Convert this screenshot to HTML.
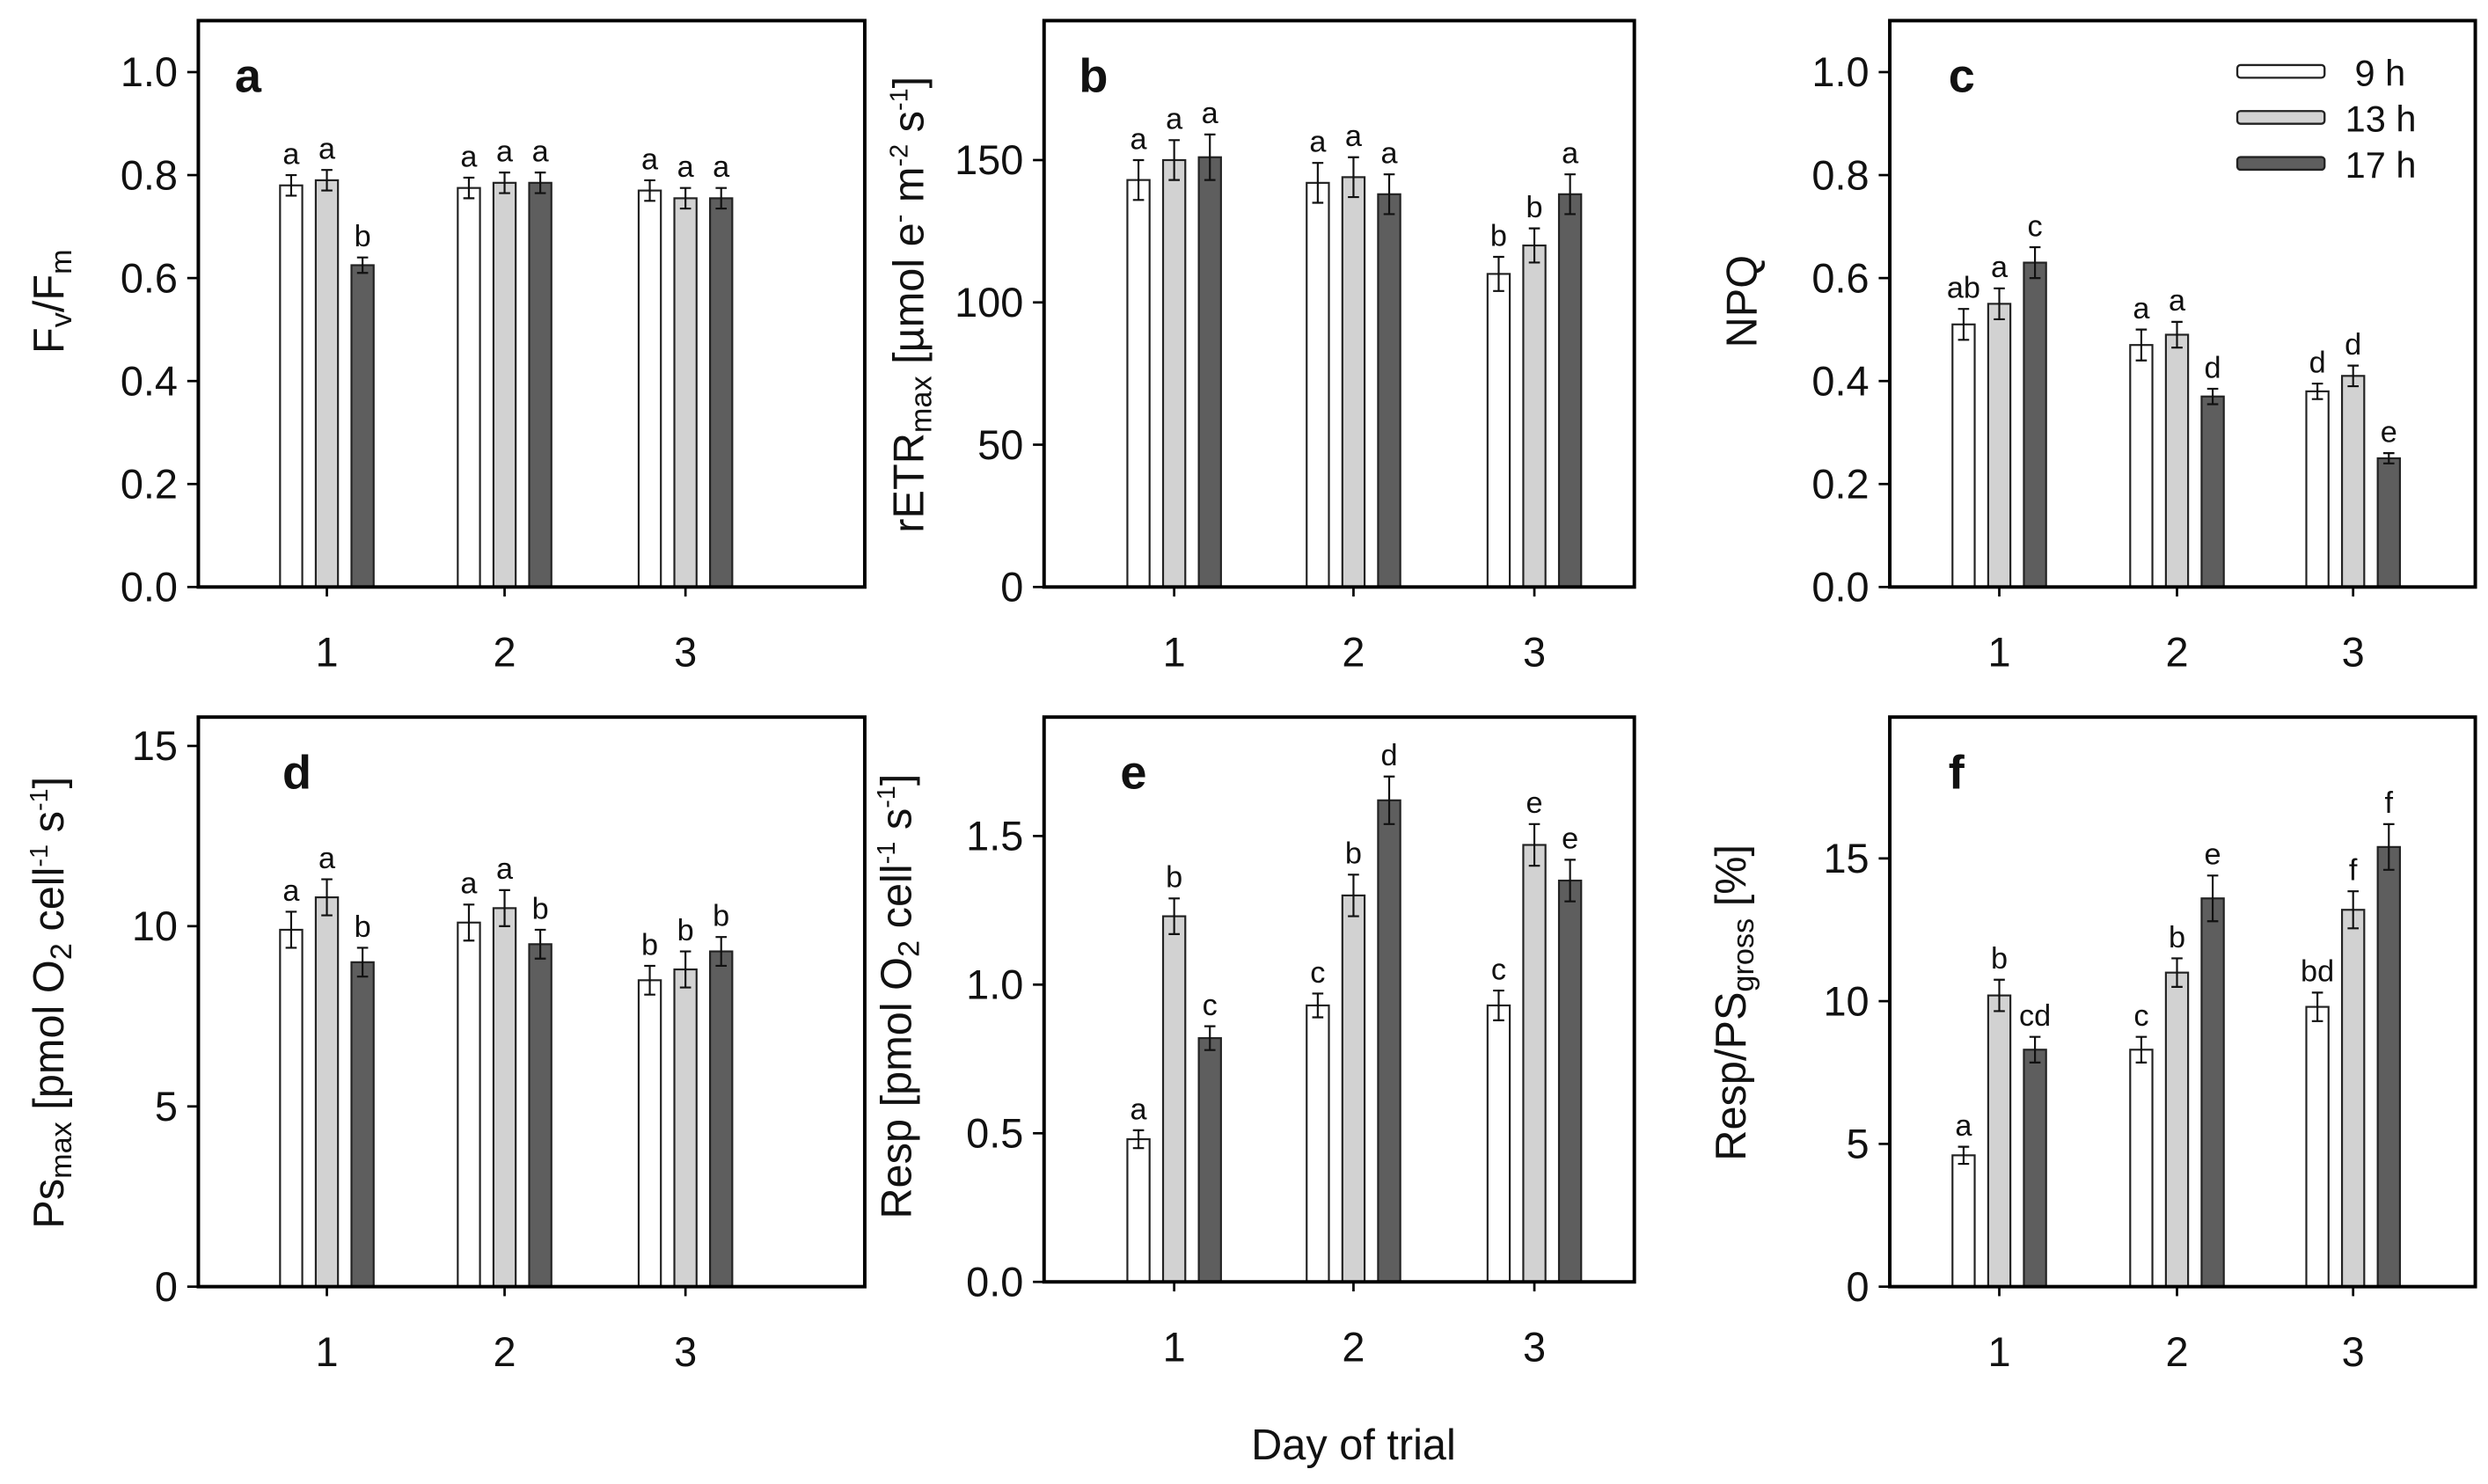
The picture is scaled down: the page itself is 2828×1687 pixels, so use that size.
<!DOCTYPE html>
<html><head><meta charset="utf-8"><style>
html,body{margin:0;padding:0;background:#fff;}
svg{display:block;font-family:"Liberation Sans",Arial,sans-serif;}
</style></head><body>
<svg id="fig" width="2828" height="1687" viewBox="0 0 1568 935.4" preserveAspectRatio="none" xmlns="http://www.w3.org/2000/svg"></svg>
<script>
const days = ["1","2","3"];
const seriesNames = ["9 h","13 h","17 h"];
// panel a
const aVals = [[0.78,0.775,0.77],[0.79,0.785,0.755],[0.625,0.785,0.755]];
const aErr  = [[0.02,0.02,0.02],[0.02,0.02,0.02],[0.015,0.02,0.02]];
const aLet  = [["a","a","a"],["a","a","a"],["b","a","a"]];
const aTicks = [0,0.2,0.4,0.6,0.8,1.0];
// panel b
const bVals = [[143,142,110],[150,144,120],[151,138,138]];
const bErr  = [[7,7,6],[7,7,6],[8,7,7]];
const bLet  = [["a","a","b"],["a","a","b"],["a","a","a"]];
const bTicks = [0,50,100,150];
// panel c
const cVals = [[0.51,0.47,0.38],[0.55,0.49,0.41],[0.63,0.37,0.25]];
const cErr  = [[0.03,0.03,0.015],[0.03,0.025,0.02],[0.03,0.015,0.01]];
const cLet  = [["ab","a","d"],["a","a","d"],["c","d","e"]];
const cTicks = [0,0.2,0.4,0.6,0.8,1.0];
// panel d
const dVals = [[9.9,10.1,8.5],[10.8,10.5,8.8],[9.0,9.5,9.3]];
const dErr  = [[0.5,0.5,0.4],[0.5,0.5,0.5],[0.4,0.4,0.4]];
const dLet  = [["a","a","b"],["a","a","b"],["b","b","b"]];
const dTicks = [0,5,10,15];
// panel e
const eVals = [[0.48,0.93,0.93],[1.23,1.30,1.47],[0.82,1.62,1.35]];
const eErr  = [[0.03,0.04,0.05],[0.06,0.07,0.07],[0.04,0.08,0.07]];
const eLet  = [["a","c","c"],["b","b","e"],["c","d","e"]];
const eTicks = [0,0.5,1.0,1.5];
// panel f
const fVals = [[4.6,8.3,9.8],[10.2,11.0,13.2],[8.3,13.6,15.4]];
const fErr  = [[0.3,0.45,0.5],[0.55,0.5,0.65],[0.45,0.8,0.8]];
const fLet  = [["a","c","bd"],["b","b","f"],["cd","e","f"]];
const fTicks = [0,5,10,15];

const NS="http://www.w3.org/2000/svg";
const svg=document.getElementById('fig');
function mk(tag,attrs,parent){const e=document.createElementNS(NS,tag);for(const k in attrs)e.setAttribute(k,attrs[k]);(parent||svg).appendChild(e);return e;}
const fills=["#ffffff","#d2d2d2","#5e5e5e"];

const panels=[
 {id:"a",vals:aVals,err:aErr,let:aLet,ticks:aTicks,fmt:v=>v.toFixed(1),ymax:1.1,x0:125,x1:545,y0:13,y1:370,cx:[206,318,432],lx:148},
 {id:"b",vals:bVals,err:bErr,let:bLet,ticks:bTicks,fmt:v=>String(v),ymax:199,x0:658,x1:1030,y0:13,y1:370,cx:[740,853,967],lx:680},
 {id:"c",vals:cVals,err:cErr,let:cLet,ticks:cTicks,fmt:v=>v.toFixed(1),ymax:1.1,x0:1191,x1:1560,y0:13,y1:370,cx:[1260,1372,1483],lx:1228},
 {id:"d",vals:dVals,err:dErr,let:dLet,ticks:dTicks,fmt:v=>String(v),ymax:15.8,x0:125,x1:545,y0:452,y1:811,cx:[206,318,432],lx:178},
 {id:"e",vals:eVals,err:eErr,let:eLet,ticks:eTicks,fmt:v=>v.toFixed(1),ymax:1.9,x0:658,x1:1030,y0:452,y1:808,cx:[740,853,967],lx:706},
 {id:"f",vals:fVals,err:fErr,let:fLet,ticks:fTicks,fmt:v=>String(v),ymax:19.95,x0:1191,x1:1560,y0:452,y1:811,cx:[1260,1372,1483],lx:1228}
];

panels.forEach(p=>{
  const g=mk('g',{});
  
  
  const yS=v=>p.y1-(v/p.ymax)*(p.y1-p.y0);
  for(let s=0;s<3;s++){
    for(let d=0;d<3;d++){
      const v=p.vals[s][d],er=p.err[s][d];
      const cx=p.cx[d]+(s-1)*22.5, w=14, y=yS(v);
      const r=mk('rect',{x:cx-w/2,y:y,width:w,height:p.y1-y,fill:fills[s],stroke:"#222","stroke-width":1.2},g);
      
      
      const eb=mk('path',{d:`M${cx} ${yS(v-er)}V${yS(v+er)}M${cx-3.5} ${yS(v+er)}H${cx+3.5}M${cx-3.5} ${yS(v-er)}H${cx+3.5}`,stroke:"#111","stroke-width":1.2,fill:"none"},g);
      
      
      const t=mk('text',{x:cx,y:yS(v+er)-7,"text-anchor":"middle","font-size":19,fill:"#111"},g);
      t.textContent=p.let[s][d];
      
      
    }
  }
  const fr=mk('rect',{x:p.x0,y:p.y0,width:p.x1-p.x0,height:p.y1-p.y0,fill:"none",stroke:"#000","stroke-width":2.2},g);
  
  
  p.ticks.forEach(tv=>{
    const y=yS(tv);
    mk('line',{x1:p.x0-7,x2:p.x0,y1:y,y2:y,stroke:"#000","stroke-width":1.5},g);
    const t=mk('text',{x:p.x0-13,y:y+9,"text-anchor":"end","font-size":26,fill:"#111"},g);
    t.textContent=p.fmt(tv);
    
    
  });
  p.cx.forEach((x,i)=>{
    mk('line',{x1:x,x2:x,y1:p.y1,y2:p.y1+6,stroke:"#000","stroke-width":1.5},g);
    const t=mk('text',{x:x,y:p.y1+50,"text-anchor":"middle","font-size":26,fill:"#111"},g);
    t.textContent=days[i];
    
    
  });
  const pl=mk('text',{x:p.lx,y:p.y0+45,"font-size":30,"font-weight":"bold",fill:"#111"},g);
  pl.textContent=p.id;
  
  
});

function ytitle(x,y,html,name){
  const t=mk('text',{x:0,y:0,transform:`translate(${x},${y}) rotate(-90)`,"text-anchor":"middle","font-size":27,fill:"#111"});
  t.innerHTML=html;
  
  
}
ytitle(40,190,'F<tspan font-size="19" dy="5">v</tspan><tspan dy="-5">/F</tspan><tspan font-size="19" dy="5">m</tspan>','y-axis-title-a');
ytitle(582,192,'rETR<tspan font-size="19" dy="5">max</tspan><tspan dy="-5"> [µmol e</tspan><tspan font-size="16" dy="-10">-</tspan><tspan dy="10"> m</tspan><tspan font-size="16" dy="-10">-2</tspan><tspan dy="10"> s</tspan><tspan font-size="16" dy="-10">-1</tspan><tspan dy="10">]</tspan>','y-axis-title-b');
ytitle(1107,190,'NPQ','y-axis-title-c');
ytitle(40,632,'Ps<tspan font-size="19" dy="5">max</tspan><tspan dy="-5"> [pmol O</tspan><tspan font-size="19" dy="5">2</tspan><tspan dy="-5"> cell</tspan><tspan font-size="16" dy="-10">-1</tspan><tspan dy="10"> s</tspan><tspan font-size="16" dy="-10">-1</tspan><tspan dy="10">]</tspan>','y-axis-title-d');
ytitle(574,628,'Resp [pmol O<tspan font-size="19" dy="5">2</tspan><tspan dy="-5"> cell</tspan><tspan font-size="16" dy="-10">-1</tspan><tspan dy="10"> s</tspan><tspan font-size="16" dy="-10">-1</tspan><tspan dy="10">]</tspan>','y-axis-title-e');
ytitle(1100,632,'Resp/PS<tspan font-size="19" dy="5">gross</tspan><tspan dy="-5"> [%]</tspan>','y-axis-title-f');

const xt=mk('text',{x:853,y:920,"text-anchor":"middle","font-size":27,fill:"#111"});
xt.textContent="Day of trial";



const lg=mk('g',{});


seriesNames.forEach((n,i)=>{
  const y=45+i*29;
  const r=mk('rect',{x:1410,y:y-4,width:55,height:8,rx:2,fill:fills[i],stroke:"#222","stroke-width":1.3},lg);
  
  
  const t=mk('text',{x:1478+(i===0?6:0),y:y+9,"font-size":23,fill:"#111"},lg);
  t.textContent=n;
  
  
});
</script>
</body></html>
